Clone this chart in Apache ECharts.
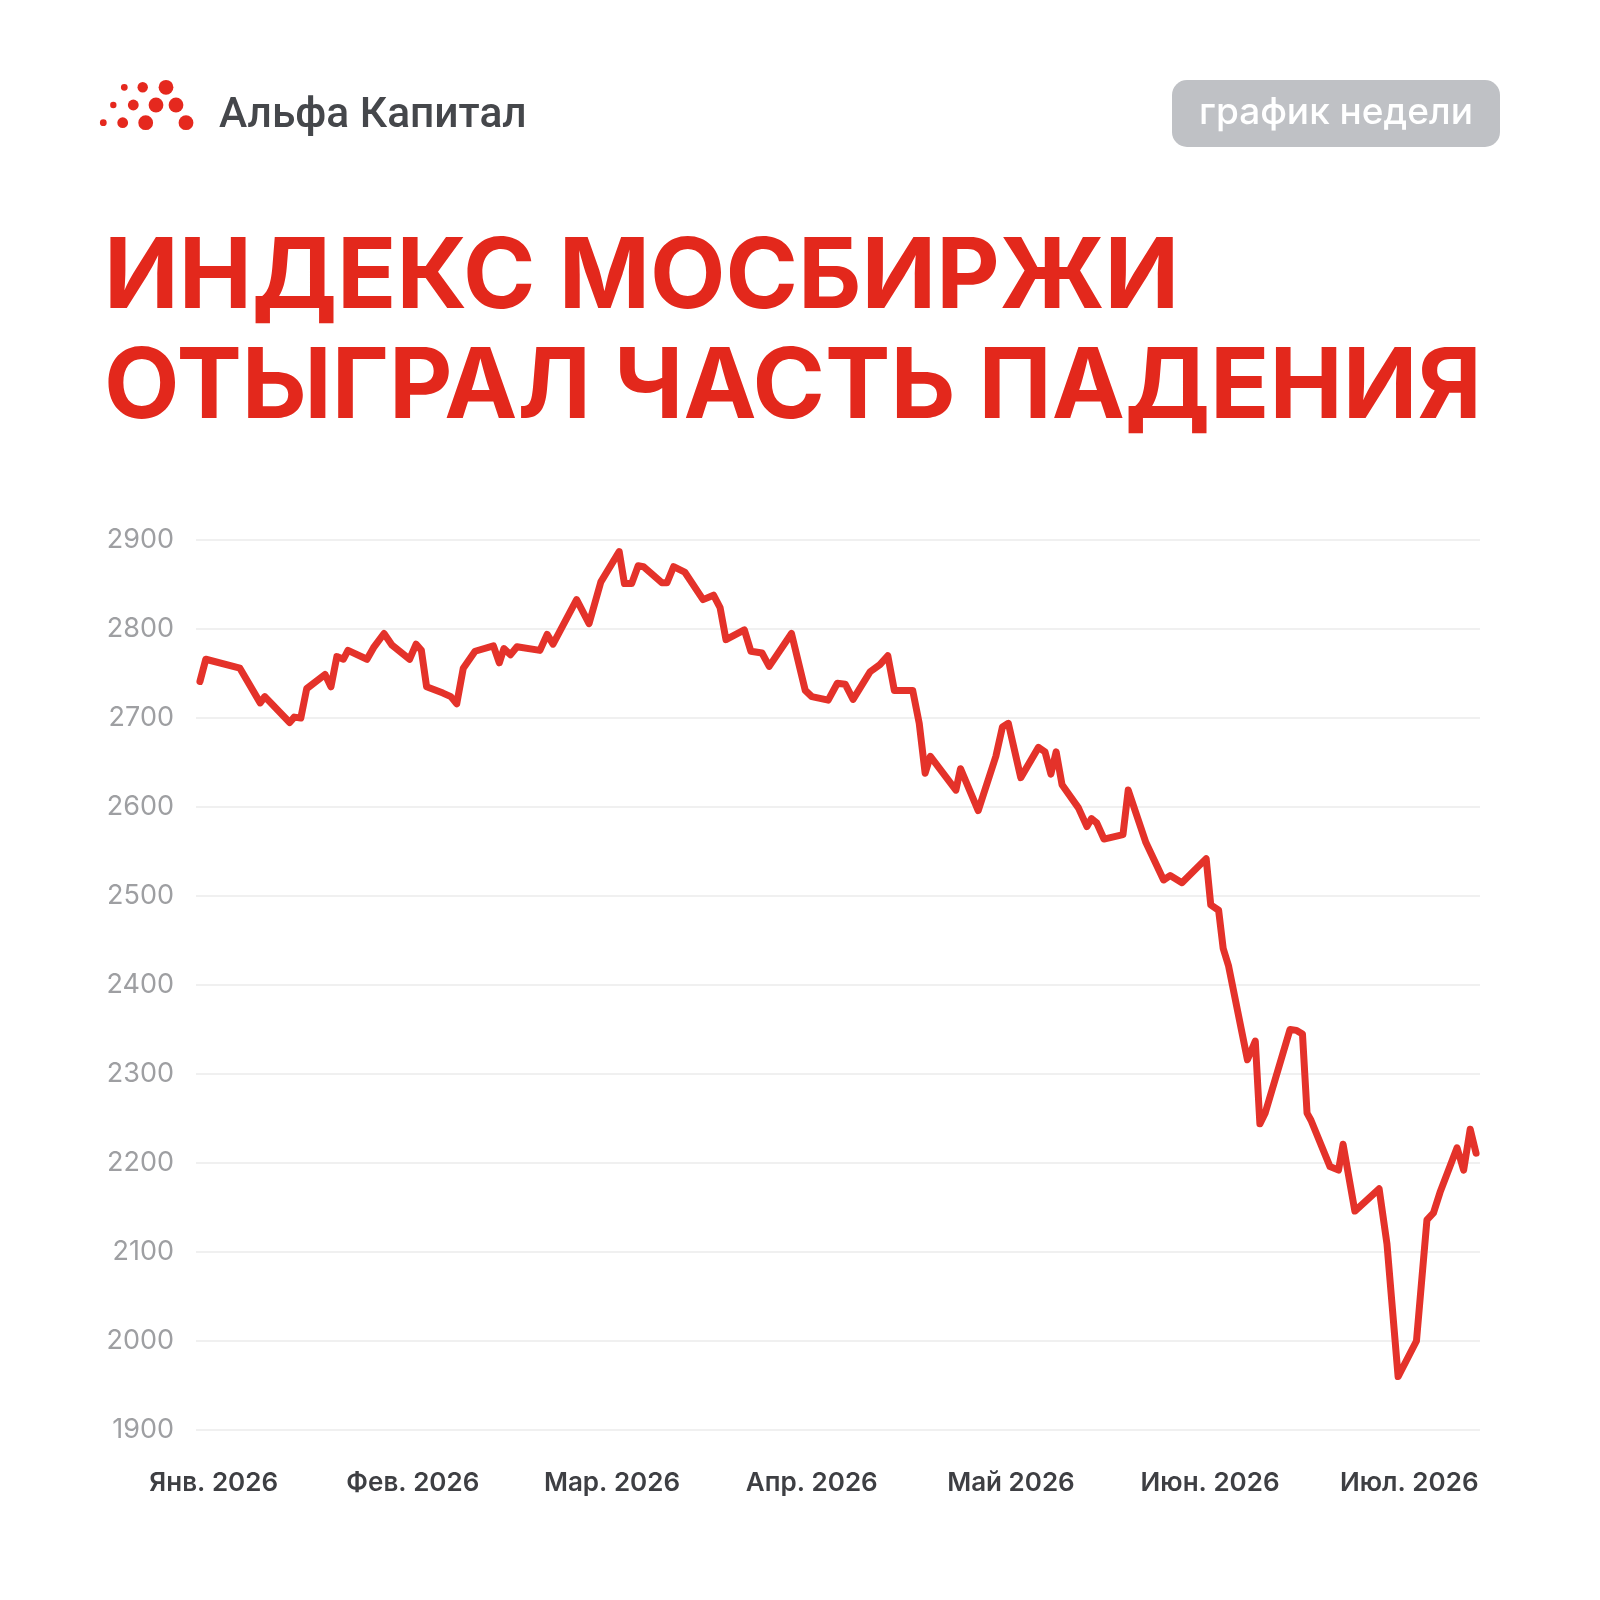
<!DOCTYPE html>
<html><head><meta charset="utf-8">
<script src="https://cdn.jsdelivr.net/npm/echarts@6/dist/echarts.min.js"></script>
<style>html,body{margin:0;padding:0;background:#fff}#c{width:1600px;height:1600px}</style>
</head><body><div id="c"></div>
<script>
// Day offsets (from start of period) and index values
const days = [0.0,0.9,6.1,9.2,9.9,13.7,14.4,15.4,16.3,19.1,20.0,20.9,21.9,22.6,25.5,26.5,28.1,29.3,32.0,33.0,33.8,34.6,37.1,38.3,39.2,
  40.2,42.0,44.8,45.7,46.4,47.4,48.4,51.9,53.0,53.9,57.5,59.4,61.2,64.0,64.8,65.9,66.9,67.7,70.5,71.3,72.3,74.0,76.8,78.4,79.4,80.3,
  83.1,84.1,85.8,86.9,90.3,92.4,93.4,95.9,97.3,98.5,99.7,102.3,103.8,105.0,106.0,108.8,109.8,110.7,111.5,
  115.4,116.1,118.8,121.5,122.5,123.4,125.3,128.0,129.0,129.9,130.7,131.6,134.1,135.4,136.1,136.9,138.0,140.9,141.7,144.4,
  147.1,148.1,149.9,153.6,154.3,155.5,156.2,157.0,159.9,160.2,161.1,161.8,162.6,166.4,167.4,168.3,169.0,169.6,172.5,173.8,
  174.5,176.3,180.0,181.2,182.9,185.7,187.3,188.3,189.3,191.9,192.9,193.9,194.8];
const values = [2741,2766,2756,2717,2724,2695,2701,2700,2733,2749,2735,2769,2766,2776,2766,2779,2795,2782,2766,2783,2776,2735,2728,2724,2716,
  2756,2775,2781,2762,2778,2771,2780,2776,2794,2783,2833,2806,2853,2887,2851,2851,2871,2870,2852,2852,2870,2864,2833,2838,2824,2788,
  2799,2775,2773,2758,2795,2731,2724,2720,2739,2738,2721,2752,2760,2770,2731,2731,2694,2638,2657,
  2619,2643,2596,2657,2690,2694,2633,2667,2662,2637,2662,2625,2599,2578,2587,2582,2564,2569,2619,2560,
  2518,2523,2515,2542,2490,2484,2441,2422,2316,2318,2337,2244,2256,2350,2349,2345,2256,2248,2196,2192,
  2221,2146,2171,2109,1960,2000,2136,2144,2167,2217,2192,2238,2211];
const monthLabels = ['Янв. 2026','Фев. 2026','Мар. 2026','Апр. 2026','Май 2026','Июн. 2026','Июл. 2026'];
const monthLabelDays = [2.1, 32.5, 62.9, 93.4, 123.8, 154.2, 184.6];
const yMin = 1900, yMax = 2900, yStep = 100;
const titleLines = ['ИНДЕКС МОСБИРЖИ', 'ОТЫГРАЛ ЧАСТЬ ПАДЕНИЯ'];
const brandName = 'Альфа Капитал';
const badgeText = 'график недели';

const RED = '#E3281C';
const chart = echarts.init(document.getElementById('c'), null, {renderer: 'canvas'});

// logo dots (decorative)
const dots = [
  [124.3, 87.3, 3.4], [142.7, 87.3, 5.2], [166, 87.3, 7.4],
  [113.3, 105, 3.2], [133.3, 105, 5.4], [156, 105, 7.4], [176, 105, 7.4],
  [103.3, 122.7, 3.4], [122.7, 122.7, 5.4], [145.7, 122.7, 7.4], [186, 122.7, 7.4]
];
const graphics = dots.map(d => ({type: 'circle', shape: {cx: d[0], cy: d[1], r: d[2]}, style: {fill: '#E5281E'}, silent: true}));
graphics.push({type: 'text', x: 219, y: 116, style: {text: brandName, fill: '#45474B', font: '500 42.5px Roboto', verticalAlign: 'middle', align: 'left'}});
graphics.push({type: 'rect', shape: {x: 1172, y: 80, width: 328, height: 67, r: 15}, style: {fill: '#BFC1C5'}});
graphics.push({type: 'text', x: 1336, y: 113, style: {text: badgeText, fill: '#FFFFFF', font: '500 37px Inter', verticalAlign: 'middle', align: 'center'}});
graphics.push({type: 'text', x: 104, y: 279, style: {text: titleLines[0], fill: RED, font: '700 98px Inter', verticalAlign: 'middle', align: 'left'}});
graphics.push({type: 'text', x: 104, y: 389, style: {text: titleLines[1], fill: RED, font: '700 98px Inter', verticalAlign: 'middle', align: 'left'}});

chart.setOption({
  animation: false,
  backgroundColor: '#ffffff',
  graphic: graphics,
  grid: {left: 196, right: 120, top: 540, bottom: 170, containLabel: false},
  xAxis: {
    type: 'value', min: -0.6, max: 195.4,
    axisLine: {show: false}, axisTick: {show: false}, splitLine: {show: false},
    axisLabel: {
      customValues: monthLabelDays,
      formatter: v => { const i = monthLabelDays.indexOf(v); return i >= 0 ? monthLabels[i] : ''; },
      color: '#3E3F43', fontFamily: 'Inter', fontWeight: 600, fontSize: 26, margin: 40
    }
  },
  yAxis: {
    type: 'value', min: yMin, max: yMax, interval: yStep,
    axisLine: {show: false}, axisTick: {show: false},
    splitLine: {lineStyle: {color: '#EBEBEB', width: 1.5}},
    axisLabel: {color: '#9E9FA2', fontFamily: 'Inter', fontSize: 27, margin: 22, formatter: v => String(v)}
  },
  series: [{
    type: 'line',
    data: days.map((d, i) => [d, values[i]]),
    showSymbol: false,
    lineStyle: {color: '#E4322A', width: 7, join: 'round', cap: 'round'}
  }]
});
</script></body></html>
